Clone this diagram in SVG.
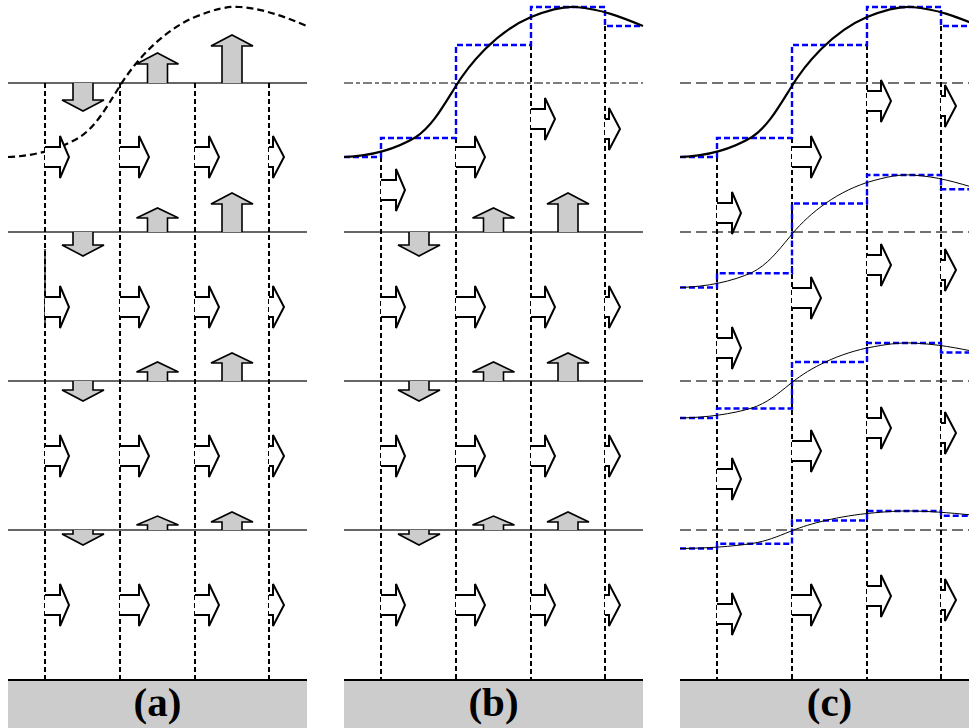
<svg xmlns="http://www.w3.org/2000/svg" xmlns:xlink="http://www.w3.org/1999/xlink" width="969" height="728" viewBox="0 0 969 728">
<style>
.hl{stroke:#333;stroke-width:1.4;fill:none}
.hdb{stroke:#555;stroke-width:1.4;fill:none;stroke-dasharray:9 3 4 3}
.hdc{stroke:#444;stroke-width:1.4;fill:none;stroke-dasharray:11 5}
.vl{stroke:#000;stroke-width:2;fill:none;stroke-dasharray:5 3}
.blue{stroke:#0000ff;stroke-width:2.4;fill:none;stroke-dasharray:6 3}
.crv{stroke:#000;stroke-width:2.2;fill:none}
.crvd{stroke:#000;stroke-width:2.2;fill:none;stroke-dasharray:7 4}
.crvt{stroke:#000;stroke-width:1;fill:none}
.ra{fill:#fff;stroke:#000;stroke-width:2;stroke-linejoin:miter}
.ga{fill:#cccccc;stroke:#000;stroke-width:1.6;stroke-linejoin:miter}
.gnd{fill:#cccccc}
.gl{stroke:#000;stroke-width:2}
.lbl{font-family:"Liberation Serif","Times New Roman",serif;font-weight:bold;font-size:41px;fill:#000;text-anchor:middle}
</style>
<defs>
<path id="ra1" d="M0 -10 H15 V-21 L24 0 L15 21 V10 H0"/>
<path id="ra2" d="M0 -10 H19 V-21 L29 0 L19 21 V10 H0"/>
<path id="ra3" d="M0 -10 H14 V-21 L24 0 L14 21 V10 H0"/>
<path id="ra4" d="M0 -10 H4 V-21 L15 0 L4 21 V10 H0"/>
<g id="vrow2">
<path class="ga" d="M73 232 V245 H62 L83 256 L104 245 H93 V232"/>
<path class="ga" d="M147.5 232 V218 H136.5 L157.5 208 L178.5 218 H167.5 V232"/>
<path class="ga" d="M222 232 V204 H211 L232 193 L253 204 H242 V232"/>
</g>
<g id="vrow3">
<path class="ga" d="M73 381 V390 H62 L83 401 L104 390 H93 V381"/>
<path class="ga" d="M147.5 381 V372 H136.5 L157.5 362 L178.5 372 H167.5 V381"/>
<path class="ga" d="M222 381 V363 H211 L232 353 L253 363 H242 V381"/>
</g>
<g id="vrow4">
<path class="ga" d="M73 530 V534 H62 L83 545 L104 534 H93 V530"/>
<path class="ga" d="M147.5 530 V525 H136.5 L157.5 516 L178.5 525 H167.5 V530"/>
<path class="ga" d="M222 530 V522 H211 L232 512 L253 522 H242 V530"/>
</g>
</defs>

<!-- Panel (a) -->
<g id="panel-a">
<g id="a-lines">
<line class="hl" x1="8" y1="83" x2="307" y2="83"/>
<line class="hl" x1="8" y1="232" x2="307" y2="232"/>
<line class="hl" x1="8" y1="381" x2="307" y2="381"/>
<line class="hl" x1="8" y1="530" x2="307" y2="530" stroke="#666"/>
<line class="vl" x1="45" y1="83" x2="45" y2="680"/>
<line class="vl" x1="120" y1="83" x2="120" y2="680"/>
<line class="vl" x1="195" y1="83" x2="195" y2="680"/>
<line class="vl" x1="269" y1="83" x2="269" y2="680"/>
<line stroke="#000" stroke-width="1.3" x1="45" y1="249" x2="45" y2="323"/>
<path class="crvd" d="M8 157 C35 156 60 149 80 137 C95 127 105 110 118 89 C133 64 160 32 195 17 C215 9 228 6 240 7 C265 9 285 17 307 26"/>
</g>
<g id="a-vertical-arrows">
<path class="ga" d="M73 83 V100 H62 L83 111 L104 100 H93 V83"/>
<path class="ga" d="M147.5 83 V64 H136.5 L157.5 53 L178.5 64 H167.5 V83"/>
<path class="ga" d="M222 83 V46 H211 L232 35 L253 46 H242 V83"/>
<use href="#vrow2"/>
<use href="#vrow3"/>
<use href="#vrow4"/>
</g>
<g id="a-right-arrows">
<use class="ra" href="#ra1" x="45" y="157"/><use class="ra" href="#ra2" x="120" y="157"/><use class="ra" href="#ra3" x="195" y="157"/><use class="ra" href="#ra4" x="269" y="157"/>
<use class="ra" href="#ra1" x="45" y="307"/><use class="ra" href="#ra2" x="120" y="307"/><use class="ra" href="#ra3" x="195" y="307"/><use class="ra" href="#ra4" x="269" y="307"/>
<use class="ra" href="#ra1" x="45" y="456"/><use class="ra" href="#ra2" x="120" y="456"/><use class="ra" href="#ra3" x="195" y="456"/><use class="ra" href="#ra4" x="269" y="456"/>
<use class="ra" href="#ra1" x="45" y="605"/><use class="ra" href="#ra2" x="120" y="605"/><use class="ra" href="#ra3" x="195" y="605"/><use class="ra" href="#ra4" x="269" y="605"/>
</g>
<g id="a-ground">
<rect class="gnd" x="8" y="680" width="299" height="48"/>
<line class="gl" x1="8" y1="680" x2="307" y2="680"/>
<text class="lbl" x="157.5" y="716">(a)</text>
</g>
</g>

<!-- Panel (b) -->
<g id="panel-b" transform="translate(336,0)">
<g id="b-lines">
<line class="hdb" x1="8" y1="83" x2="307" y2="83"/>
<line class="hl" x1="8" y1="232" x2="307" y2="232"/>
<line class="hl" x1="8" y1="381" x2="307" y2="381"/>
<line class="hl" x1="8" y1="530" x2="307" y2="530" stroke="#666"/>
<line class="vl" x1="45" y1="157" x2="45" y2="680"/>
<line class="vl" x1="120" y1="138" x2="120" y2="680"/>
<line class="vl" x1="195" y1="45" x2="195" y2="680"/>
<line class="vl" x1="269" y1="26" x2="269" y2="680"/>
<path class="blue" d="M8 157 H45 V138 H120 V45 H195 V7 H269 V26 H307"/>
<path class="crv" d="M8 157 C35 156 60 149 80 137 C95 127 105 110 118 89 C133 64 160 32 195 17 C215 9 228 6 240 7 C265 9 285 17 307 26"/>
</g>
<g id="b-vertical-arrows">
<use href="#vrow2"/>
<use href="#vrow3"/>
<use href="#vrow4"/>
</g>
<g id="b-right-arrows">
<use class="ra" href="#ra1" x="45" y="190"/><use class="ra" href="#ra2" x="120" y="157"/><use class="ra" href="#ra3" x="195" y="119"/><use class="ra" href="#ra4" x="269" y="129"/>
<use class="ra" href="#ra1" x="45" y="307"/><use class="ra" href="#ra2" x="120" y="307"/><use class="ra" href="#ra3" x="195" y="307"/><use class="ra" href="#ra4" x="269" y="307"/>
<use class="ra" href="#ra1" x="45" y="456"/><use class="ra" href="#ra2" x="120" y="456"/><use class="ra" href="#ra3" x="195" y="456"/><use class="ra" href="#ra4" x="269" y="456"/>
<use class="ra" href="#ra1" x="45" y="605"/><use class="ra" href="#ra2" x="120" y="605"/><use class="ra" href="#ra3" x="195" y="605"/><use class="ra" href="#ra4" x="269" y="605"/>
</g>
<g id="b-ground">
<rect class="gnd" x="8" y="680" width="299" height="48"/>
<line class="gl" x1="8" y1="680" x2="307" y2="680"/>
<text class="lbl" x="157.5" y="716">(b)</text>
</g>
</g>

<!-- Panel (c) -->
<g id="panel-c" transform="translate(672,0)">
<g id="c-lines">
<line class="hdc" x1="8" y1="83" x2="307" y2="83"/>
<line class="hdc" x1="8" y1="232" x2="307" y2="232"/>
<line class="hdc" x1="8" y1="381" x2="307" y2="381"/>
<line class="hdc" x1="8" y1="530" x2="307" y2="530"/>
<line class="vl" x1="45" y1="157" x2="45" y2="680"/>
<line class="vl" x1="120" y1="138" x2="120" y2="680"/>
<line class="vl" x1="195" y1="45" x2="195" y2="680"/>
<line class="vl" x1="269" y1="26" x2="269" y2="680"/>
<path class="blue" d="M8 157 H45 V138 H120 V45 H195 V7 H269 V26 H307"/>
<path class="blue" d="M8 287.5 H45 V273.25 H120 V203.5 H195 V175 H269 V189.25 H307"/>
<path class="blue" d="M8 418 H45 V408.5 H120 V362 H195 V343 H269 V352.5 H307"/>
<path class="blue" d="M8 548.5 H45 V543.75 H120 V520.5 H195 V511 H269 V515.75 H307"/>
<path class="crv" d="M8 157 C35 156 60 149 80 137 C95 127 105 110 118 89 C133 64 160 32 195 17 C215 9 228 6 240 7 C265 9 285 17 307 26"/>
<path class="crvt" d="M8 287.5 C35 286.75 60 281.5 80 272.5 C95 265 105 252.25 118 236.5 C133 217.75 160 193.75 195 182.5 C215 176.5 228 174.25 240 175 C265 176.5 285 182.5 307 189.25"/>
<path class="crvt" d="M8 418 C35 417.5 60 414 80 408 C95 403 105 394.5 118 384 C133 371.5 160 355.5 195 348 C215 344 228 342.5 240 343 C265 344 285 348 307 352.5"/>
<path class="crvt" d="M8 548.5 C35 548.25 60 546.5 80 543.5 C95 541 105 536.75 118 531.5 C133 525.25 160 517.25 195 513.5 C215 511.5 228 510.75 240 511 C265 511.5 285 513.5 307 515.75"/>
</g>
<g id="c-right-arrows">
<use class="ra" href="#ra1" x="45" y="213"/><use class="ra" href="#ra2" x="120" y="157"/><use class="ra" href="#ra3" x="195" y="101"/><use class="ra" href="#ra4" x="269" y="106"/>
<use class="ra" href="#ra1" x="45" y="348"/><use class="ra" href="#ra2" x="120" y="298"/><use class="ra" href="#ra3" x="195" y="265"/><use class="ra" href="#ra4" x="269" y="270"/>
<use class="ra" href="#ra1" x="45" y="479"/><use class="ra" href="#ra2" x="120" y="451"/><use class="ra" href="#ra3" x="195" y="428"/><use class="ra" href="#ra4" x="269" y="433"/>
<use class="ra" href="#ra1" x="45" y="614"/><use class="ra" href="#ra2" x="120" y="605"/><use class="ra" href="#ra3" x="195" y="596"/><use class="ra" href="#ra4" x="269" y="600"/>
</g>
<g id="c-ground">
<rect class="gnd" x="8" y="680" width="299" height="48"/>
<line class="gl" x1="8" y1="680" x2="307" y2="680"/>
<text class="lbl" x="157.5" y="716">(c)</text>
</g>
</g>
</svg>
